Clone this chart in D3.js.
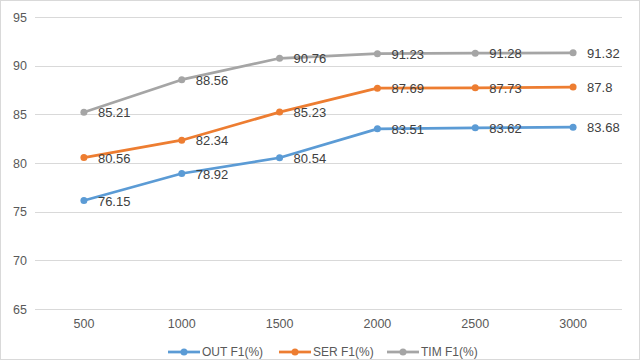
<!DOCTYPE html>
<html>
<head>
<meta charset="utf-8">
<script src="https://cdn.jsdelivr.net/npm/d3@7"></script>
<style>
  body { margin: 0; background: #fff; }
  text { font-family: "Liberation Sans", Arial, sans-serif; fill: #595959; }
</style>
</head>
<body>
<div id="chart"></div>
<script>
// F1 scores by sample size

var sizes = ["500", "1000", "1500", "2000", "2500", "3000"];
var out_f1 = [76.15, 78.92, 80.54, 83.51, 83.62, 83.68];
var ser_f1 = [80.56, 82.34, 85.23, 87.69, 87.73, 87.8];
var tim_f1 = [85.21, 88.56, 90.76, 91.23, 91.28, 91.32];
var yTicks = [65, 70, 75, 80, 85, 90, 95];

var series = [
  {name: "OUT F1(%)", values: out_f1, color: "#5B9BD5"},
  {name: "SER F1(%)", values: ser_f1, color: "#ED7D31"},
  {name: "TIM F1(%)", values: tim_f1, color: "#A5A5A5"}
];

var W = 640, H = 360;
var margin = {top: 17, right: 18, bottom: 51, left: 35},
    width = W - margin.left - margin.right,
    height = H - margin.top - margin.bottom;

var svg = d3.select("#chart").append("svg")
    .attr("width", W)
    .attr("height", H);

svg.append("rect")
    .attr("x", 0.5).attr("y", 0.5)
    .attr("width", W - 1).attr("height", H - 1)
    .attr("fill", "#fff")
    .attr("stroke", "#d9d9d9");

var g = svg.append("g").attr("transform", "translate(" + margin.left + "," + margin.top + ")");

var x = d3.scaleBand().domain(sizes).range([0, width]);
var y = d3.scaleLinear().domain([65, 95]).range([height, 0]);

// gridlines
g.append("g")
  .selectAll("line")
  .data(yTicks)
  .enter().append("line")
    .attr("x1", 0).attr("x2", width)
    .attr("y1", function(d) { return Math.round(y(d)) + 0.5; })
    .attr("y2", function(d) { return Math.round(y(d)) + 0.5; })
    .attr("stroke", "#d9d9d9");

var yAxis = g.append("g")
    .call(d3.axisLeft(y).tickValues(yTicks).tickSize(0).tickPadding(8));
yAxis.select(".domain").remove();
yAxis.selectAll("text").attr("font-size", 12.5).attr("fill", "#595959")
    .style("font-family", "Liberation Sans, Arial, sans-serif");

var xAxis = g.append("g")
    .attr("transform", "translate(0," + height + ")")
    .call(d3.axisBottom(x).tickSize(0).tickPadding(10));
xAxis.select(".domain").remove();
xAxis.selectAll("text").attr("font-size", 12.5).attr("fill", "#595959")
    .style("font-family", "Liberation Sans, Arial, sans-serif");

var line = d3.line()
    .x(function(d, i) { return x(sizes[i]) + x.bandwidth() / 2; })
    .y(function(d) { return y(d); });

series.forEach(function(s) {
  var sg = g.append("g");
  sg.append("path")
    .datum(s.values)
    .attr("d", line)
    .attr("fill", "none")
    .attr("stroke", s.color)
    .attr("stroke-width", 2.75)
    .attr("stroke-linejoin", "round");
  sg.selectAll("circle")
    .data(s.values)
    .enter().append("circle")
      .attr("cx", function(d, i) { return x(sizes[i]) + x.bandwidth() / 2; })
      .attr("cy", function(d) { return y(d); })
      .attr("r", 3.5)
      .attr("fill", s.color);
});

// data labels drawn on top
series.forEach(function(s) {
  g.append("g").selectAll("text")
    .data(s.values)
    .enter().append("text")
      .attr("x", function(d, i) { return x(sizes[i]) + x.bandwidth() / 2 + 14; })
      .attr("y", function(d) { return y(d); })
      .attr("dy", "0.4em")
      .attr("font-size", 13)
      .style("fill", "#404040")
      .text(function(d) { return d; });
});

// legend
var legendX = [168, 279, 387];
var legend = svg.append("g").attr("transform", "translate(0," + 352 + ")");
series.forEach(function(s, i) {
  var lg = legend.append("g").attr("transform", "translate(" + legendX[i] + ",0)");
  lg.append("line")
    .attr("x1", 0).attr("x2", 32)
    .attr("stroke", s.color).attr("stroke-width", 2.75);
  lg.append("circle").attr("cx", 16).attr("r", 3.5).attr("fill", s.color);
  lg.append("text")
    .attr("x", 34).attr("dy", "0.35em")
    .attr("font-size", 12)
    .text(s.name);
});
</script>
</body>
</html>
